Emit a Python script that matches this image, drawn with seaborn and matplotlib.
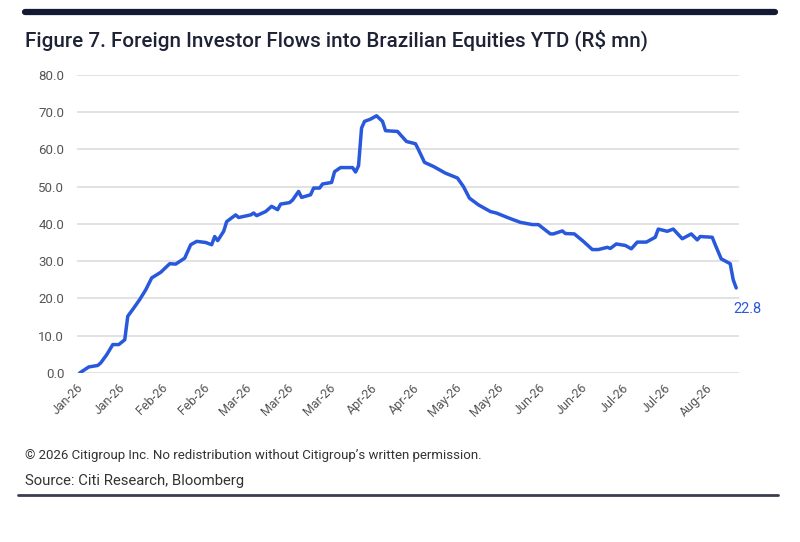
import pandas as pd
import numpy as np
import matplotlib
matplotlib.use("Agg")
import matplotlib.pyplot as plt
import matplotlib.dates as mdates
import seaborn as sns

## Data (R$ mn, YTD cumulative)
dates = [
    "2026-01-05", "2026-01-08", "2026-01-11", "2026-01-12", "2026-01-14", "2026-01-16",
    "2026-01-18", "2026-01-20", "2026-01-21", "2026-01-23", "2026-01-25", "2026-01-27",
    "2026-01-29", "2026-02-01", "2026-02-04", "2026-02-06", "2026-02-09", "2026-02-11",
    "2026-02-13", "2026-02-16", "2026-02-18", "2026-02-19", "2026-02-20", "2026-02-22",
    "2026-02-23", "2026-02-26", "2026-02-27", "2026-03-03", "2026-03-04", "2026-03-05",
    "2026-03-08", "2026-03-10", "2026-03-12", "2026-03-13", "2026-03-16", "2026-03-17",
    "2026-03-19", "2026-03-20", "2026-03-23", "2026-03-24", "2026-03-26", "2026-03-27",
    "2026-03-30", "2026-03-31", "2026-04-02", "2026-04-06", "2026-04-07", "2026-04-08",
    "2026-04-09", "2026-04-10", "2026-04-12", "2026-04-14", "2026-04-16", "2026-04-17",
    "2026-04-21", "2026-04-22", "2026-04-24", "2026-04-27", "2026-04-28", "2026-04-30",
    "2026-05-03", "2026-05-07", "2026-05-11", "2026-05-13", "2026-05-15", "2026-05-18",
    "2026-05-22", "2026-05-24", "2026-05-28", "2026-06-01", "2026-06-05", "2026-06-07",
    "2026-06-11", "2026-06-12", "2026-06-15", "2026-06-16", "2026-06-19", "2026-06-22",
    "2026-06-25", "2026-06-27", "2026-06-30", "2026-07-01", "2026-07-03", "2026-07-06",
    "2026-07-08", "2026-07-10", "2026-07-13", "2026-07-16", "2026-07-17", "2026-07-20",
    "2026-07-22", "2026-07-25", "2026-07-28", "2026-07-30", "2026-07-31", "2026-08-04",
    "2026-08-05", "2026-08-07", "2026-08-10", "2026-08-11", "2026-08-12",
]
flows = [
    0.0, 1.6, 2.0, 2.7, 4.9, 7.6,
    7.6, 8.9, 15.2, 17.4, 19.7, 22.3,
    25.5, 27.0, 29.3, 29.2, 30.8, 34.4,
    35.3, 35.0, 34.4, 36.6, 35.5, 38.0,
    40.6, 42.4, 41.7, 42.4, 42.9, 42.2,
    43.3, 44.7, 43.8, 45.3, 45.7, 46.4,
    48.7, 47.1, 47.8, 49.6, 49.6, 50.7,
    51.1, 54.0, 55.1, 55.1, 53.9, 55.6,
    65.7, 67.5, 68.1, 69.0, 67.5, 65.0,
    64.8, 63.9, 62.1, 61.5, 59.9, 56.5,
    55.4, 53.6, 52.3, 50.0, 46.9, 45.1,
    43.3, 42.9, 41.6, 40.4, 39.8, 39.8,
    37.3, 37.3, 38.1, 37.4, 37.3, 35.3,
    33.1, 33.1, 33.7, 33.4, 34.6, 34.2,
    33.3, 35.1, 35.1, 36.4, 38.6, 38.0,
    38.6, 36.0, 37.3, 35.7, 36.6, 36.4,
    34.4, 30.6, 29.3, 25.0, 22.8,
]
y_ticks = [0, 10, 20, 30, 40, 50, 60, 70, 80]
title = "Figure 7. Foreign Investor Flows into Brazilian Equities YTD (R$ mn)"
copyright_note = "\u00a9 2026 Citigroup Inc. No redistribution without Citigroup\u2019s written permission."
source_note = "Source: Citi Research, Bloomberg"

df = pd.DataFrame({"date": pd.to_datetime(dates), "flow": flows})

## Style
sns.set_style("white")
plt.rcParams["font.family"] = ["Roboto", "DejaVu Sans"]

navy = "#141a33"
blue = "#2858dc"
grey_txt = "#555555"

fig = plt.figure(figsize=(8, 5.42), dpi=100)
ax = fig.add_axes([0.096, 0.312, 0.828, 0.550])

sns.lineplot(data=df, x="date", y="flow", ax=ax, color=blue, linewidth=2.5)

ax.set_ylim(0, 80)
ax.set_yticks(y_ticks)
ax.set_yticklabels([f"{v:.1f}" for v in y_ticks], fontsize=9.5, color=grey_txt)
ax.set_xlim(pd.Timestamp("2026-01-04"), pd.Timestamp("2026-08-13"))
ax.set_xticks(pd.date_range("2026-01-04", periods=16, freq="14D"))
ax.xaxis.set_major_formatter(mdates.DateFormatter("%b-%y"))
plt.setp(ax.get_xticklabels(), rotation=45, ha="right", rotation_mode="anchor",
         fontsize=9, color=grey_txt)
ax.tick_params(axis="x", length=4, color="#cccccc", pad=2)
ax.tick_params(axis="y", length=0, pad=9)
ax.grid(axis="y", color="#dddddd", linewidth=1.2)
for s in ax.spines.values():
    s.set_visible(False)
ax.set_xlabel("")
ax.set_ylabel("")

## Last value label
ax.annotate(f"{df['flow'].iloc[-1]:.1f}", xy=(df["date"].iloc[-1], df["flow"].iloc[-1]),
            xytext=(-2, -15), textcoords="offset points", color=blue, fontsize=10.5,
            ha="left", va="center")

## Frame, title and footer
fig.add_artist(plt.Line2D([0.031, 0.969], [0.977, 0.977], color=navy, linewidth=4.5))
t_title = fig.text(0.031, 0.925, title, fontsize=14, fontweight="medium", color="#1e2235", va="center")
t_copy = fig.text(0.031, 0.160, copyright_note, fontsize=9.5, color="#333333", va="center")
t_src = fig.text(0.031, 0.113, source_note, fontsize=11, color="#333333", va="center")
fig.add_artist(plt.Line2D([0.022, 0.972], [0.087, 0.087], color="#3a3d4d", linewidth=2))

# squeeze the texts to the widths seen in the original (its font is a narrow one)
renderer = fig.canvas.get_renderer()
for t, target in [(t_title, 626), (t_copy, 460), (t_src, 220)]:
    w = t.get_window_extent(renderer).width
    t.set_fontsize(t.get_fontsize() * target / w)

fig.savefig("out.png", dpi=100)
